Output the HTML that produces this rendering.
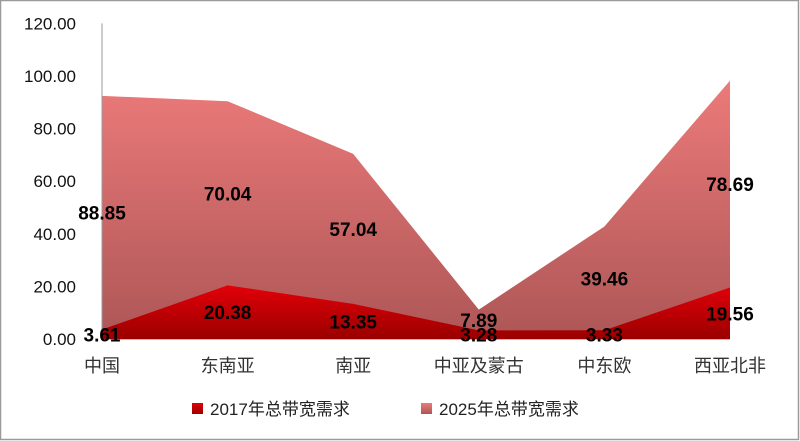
<!DOCTYPE html>
<html><head><meta charset="utf-8">
<style>
html,body{margin:0;padding:0;background:#fff;}
svg{display:block;font-family:"Liberation Sans","Noto Sans CJK SC",sans-serif;}
</style></head>
<body>
<svg id="chart" width="800" height="441" viewBox="0 0 800 441">
<defs>
<linearGradient id="g25" x1="0" y1="0" x2="0" y2="1">
<stop offset="0" stop-color="#ec7a7a"/><stop offset="1" stop-color="#ad5656"/>
</linearGradient>
<linearGradient id="g17" x1="0" y1="0" x2="0" y2="1">
<stop offset="0" stop-color="#e20008"/><stop offset="1" stop-color="#9a0000"/>
</linearGradient>
</defs>
<rect x="0.5" y="0.5" width="798" height="439" fill="#fff" stroke="#9a9a9a" stroke-width="1.5"/>
<g id="plot"></g>
<g>
<rect x="192" y="403" width="11" height="11" fill="url(#g17)"/>
<text x="210" y="415" font-size="17" fill="#222">2017年总带宽需求</text>
<rect x="421" y="403" width="11" height="11" fill="url(#g25)"/>
<text x="439" y="415" font-size="17" fill="#222">2025年总带宽需求</text>
</g>
</svg>
<script>
const categories = ["中国","东南亚","南亚","中亚及蒙古","中东欧","西亚北非"];
const values2017 = [3.61, 20.38, 13.35, 3.28, 3.33, 19.56];
const values2025 = [88.85, 70.04, 57.04, 7.89, 39.46, 78.69];
const yTicks = [0, 20, 40, 60, 80, 100, 120];

const NS = "http://www.w3.org/2000/svg";
const plot = document.getElementById("plot");
const x0 = 102, x1 = 730, yBase = 339, yTop = 23.4, yMax = 120;
const xPos = i => x0 + (x1 - x0) * i / (categories.length - 1);
const yPos = v => yBase - (yBase - yTop) * v / yMax;
function mk(tag, attrs){ const e = document.createElementNS(NS, tag); for (const k in attrs) e.setAttribute(k, attrs[k]); return e; }

const top25 = values2017.map((v,i) => v + values2025[i]);
let d25 = "M" + xPos(0) + "," + yBase;
top25.forEach((v,i) => d25 += " L" + xPos(i) + "," + yPos(v));
d25 += " L" + xPos(categories.length-1) + "," + yBase + " Z";
const a25 = mk("path", {d: d25, fill: "url(#g25)"});


plot.appendChild(a25);

let d17 = "M" + xPos(0) + "," + yBase;
values2017.forEach((v,i) => d17 += " L" + xPos(i) + "," + yPos(v));
d17 += " L" + xPos(categories.length-1) + "," + yBase + " Z";
const a17 = mk("path", {d: d17, fill: "url(#g17)"});


plot.appendChild(a17);

const axis = mk("line", {x1: x0, y1: yTop, x2: x0, y2: yBase+1, stroke: "#9a9a9a", "stroke-width": 1});


plot.appendChild(axis);
const xaxis = mk("line", {x1: x0, y1: yBase+0.5, x2: x1, y2: yBase+0.5, stroke: "#bbb", "stroke-width": 1});


plot.appendChild(xaxis);

yTicks.forEach(t => {
  const tx = mk("text", {x: 76, y: yPos(t) + 6, "font-size": 17, fill: "#111", "text-anchor": "end"});
  tx.textContent = t.toFixed(2);
  
  
  plot.appendChild(tx);
});

categories.forEach((c,i) => {
  const tx = mk("text", {x: xPos(i), y: 372, "font-size": 18, fill: "#333", "text-anchor": "middle"});
  tx.textContent = c;
  
  
  plot.appendChild(tx);

  const l17 = mk("text", {x: xPos(i), y: yPos(values2017[i]/2) + 7, "font-size": 19, "font-weight": "bold", fill: "#000", "text-anchor": "middle"});
  l17.textContent = values2017[i].toFixed(2);
  
  
  plot.appendChild(l17);

  const l25 = mk("text", {x: xPos(i), y: yPos(values2017[i] + values2025[i]/2) + 7, "font-size": 19, "font-weight": "bold", fill: "#000", "text-anchor": "middle"});
  l25.textContent = values2025[i].toFixed(2);
  
  
  plot.appendChild(l25);
});
</script>
</body></html>
